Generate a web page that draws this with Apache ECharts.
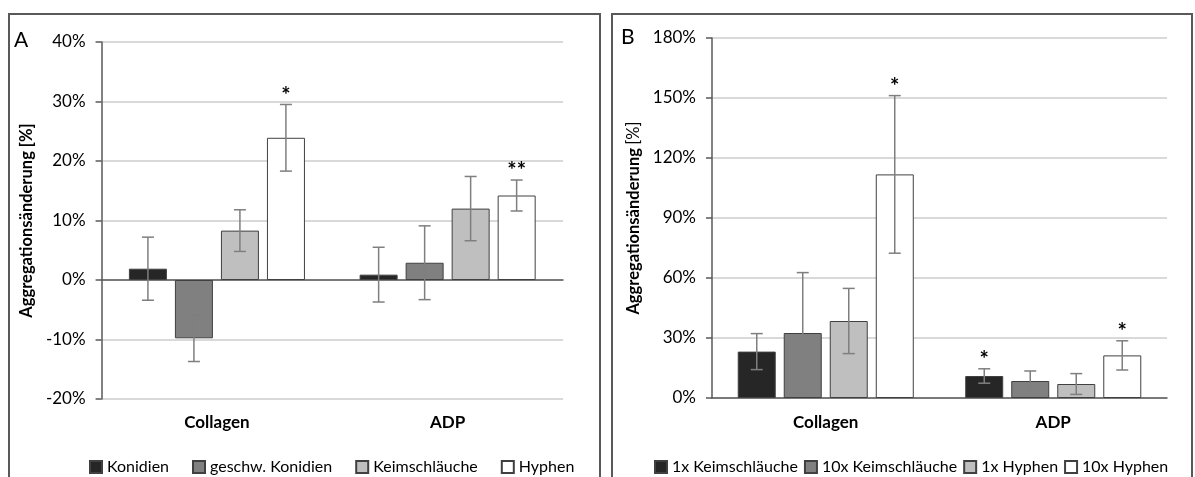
<!DOCTYPE html>
<html>
<head>
<meta charset="utf-8">
<script src="https://cdn.jsdelivr.net/npm/echarts@6/dist/echarts.min.js"></script>
<style>
  html, body { margin: 0; padding: 0; background: #fff; overflow: hidden; }
  .panel { position: absolute; top: 13px; height: 470px; border: 2px solid #595959; border-bottom: none; }
  #boxA { left: 8px; width: 589px; }
  #boxB { left: 611px; width: 578px; }
  .chart { width: 100%; height: 462px; }
</style>
</head>
<body>
<div class="panel" id="boxA"><div class="chart" id="chartA"></div></div>
<div class="panel" id="boxB"><div class="chart" id="chartB"></div></div>
<script>
// Daten (Werte in %)
var categories = ['Collagen', 'ADP'];

var namesA = ['Konidien', 'geschw. Konidien', 'Keimschläuche', 'Hyphen'];
var valuesA = [[1.9, 0.9], [-9.8, 2.9], [8.3, 12.0], [23.9, 14.2]];
var errorsA = [[5.3, 4.6], [3.9, 6.2], [3.5, 5.4], [5.6, 2.6]];
var sigA = [['', ''], ['', ''], ['', ''], ['*', '**']];
var ticksA = { min: -20, max: 40, interval: 10 };

var namesB = ['1x Keimschläuche', '10x Keimschläuche', '1x Hyphen', '10x Hyphen'];
var valuesB = [[23.2, 11.0], [32.5, 8.5], [38.5, 7.0], [111.8, 21.3]];
var errorsB = [[9.0, 3.6], [30.2, 5.0], [16.3, 5.2], [39.4, 7.3]];
var sigB = [['', '*'], ['', ''], ['', ''], ['*', '*']];
var ticksB = { min: 0, max: 180, interval: 30 };

var barColors = ['#262626', '#808080', '#bfbfbf', '#ffffff'];
var FONT = 'Lato, "Open Sans", sans-serif';
var BAR_W = 38, BAR_GAP = 8;

function buildSeries(names, values, errors, sig) {
    var series = [];
    names.forEach(function (name, s) {
        series.push({
            name: name,
            type: 'bar',
            barWidth: BAR_W,
            barGap: (BAR_GAP / BAR_W * 100).toFixed(1) + '%',
            itemStyle: { color: barColors[s], borderColor: '#404040', borderWidth: 1 },
            data: values[s]
        });
    });
    names.forEach(function (name, s) {
        var data = values[s].map(function (v, i) {
            return [i, v, errors[s][i], sig[s][i]];
        });
        series.push({
            type: 'custom',
            z: 5,
            silent: true,
            data: data,
            renderItem: function (params, api) {
                var cat = api.value(0), v = api.value(1), e = api.value(2);
                var star = data[params.dataIndex][3];
                var off = (s - 1.5) * (BAR_W + BAR_GAP);
                var hi = api.coord([cat, v + e]);
                var lo = api.coord([cat, v - e]);
                var x = hi[0] + off;
                var st = { stroke: '#7f7f7f', lineWidth: 1.5 };
                var kids = [
                    { type: 'line', shape: { x1: x, y1: hi[1], x2: x, y2: lo[1] }, style: st },
                    { type: 'line', shape: { x1: x - 6, y1: hi[1], x2: x + 6, y2: hi[1] }, style: st },
                    { type: 'line', shape: { x1: x - 6, y1: lo[1], x2: x + 6, y2: lo[1] }, style: st }
                ];
                if (star) {
                    kids.push({
                        type: 'text',
                        style: {
                            text: star, x: x, y: hi[1] + 2, align: 'center', verticalAlign: 'bottom',
                            fill: '#000', font: 'bold 22px ' + FONT
                        }
                    });
                }
                return { type: 'group', children: kids };
            }
        });
    });
    return series;
}

function yAxisOpt(t, gap, rich) {
    return {
        type: 'value',
        min: t.min, max: t.max, interval: t.interval,
        name: rich,
        nameLocation: 'middle',
        nameGap: gap,
        nameRotate: 90,
        nameTextStyle: {
            rich: {
                b: { fontFamily: FONT, fontWeight: 'bold', fontSize: 16.5, color: '#000' },
                n: { fontFamily: FONT, fontSize: 16.5, color: '#000' }
            }
        },
        axisLine: { show: true, lineStyle: { color: '#595959', width: 1.5 } },
        axisTick: { show: true, length: 6, lineStyle: { color: '#595959', width: 1.5 } },
        axisLabel: { margin: 16, formatter: '{value}%', fontFamily: FONT, fontSize: 17, color: '#000' },
        splitLine: { lineStyle: { color: '#d9d9d9', width: 2 } }
    };
}

function legendOpt(names, left, gap) {
    return {
        data: names,
        left: left,
        top: 439,
        width: 575,
        icon: 'rect',
        itemWidth: 12,
        itemHeight: 12,
        itemGap: gap,
        textStyle: { fontFamily: FONT, fontSize: 16, color: '#000' }
    };
}

var catLabel = { fontFamily: FONT, fontSize: 17, fontWeight: 'bold', color: '#000' };

// Panel A
var chartA = echarts.init(document.getElementById('chartA'));
var optionA = {
    animation: false,
    graphic: [{ type: 'text', left: 4, top: 15, style: { text: 'A', font: '21px ' + FONT, fill: '#000' } }],
    grid: { left: 88, top: 27, width: 465, height: 357 },
    legend: legendOpt(namesA, 74, 23),
    xAxis: [
        {
            type: 'category', data: categories,
            axisLine: { onZero: true, lineStyle: { color: '#595959', width: 1.5 } },
            axisTick: { inside: true, length: 5, lineStyle: { color: '#595959', width: 1.5 } },
            axisLabel: { show: false }
        },
        {
            type: 'category', data: categories, position: 'bottom',
            axisLine: { show: false, onZero: false }, axisTick: { show: false },
            axisLabel: Object.assign({ margin: 15 }, catLabel)
        }
    ],
    yAxis: yAxisOpt(ticksA, 63, '{b|Aggregationsänderung [%]}'),
    series: buildSeries(namesA, valuesA, errorsA, sigA)
};
chartA.setOption(optionA);

// Panel B
var chartB = echarts.init(document.getElementById('chartB'));
var optionB = {
    animation: false,
    graphic: [{ type: 'text', left: 8, top: 12, style: { text: 'B', font: '21px ' + FONT, fill: '#000' } }],
    grid: { left: 99, top: 23, width: 455, height: 360 },
    legend: legendOpt(namesB, 36, 6),
    xAxis: {
        type: 'category', data: categories,
        axisLine: { lineStyle: { color: '#595959', width: 1.5 } },
        axisTick: { inside: true, length: 5, lineStyle: { color: '#595959', width: 1.5 } },
        axisLabel: Object.assign({ margin: 16 }, catLabel)
    },
    yAxis: yAxisOpt(ticksB, 65, '{b|Aggregationsänderung} {n|[%]}'),
    series: buildSeries(namesB, valuesB, errorsB, sigB)
};
chartB.setOption(optionB);
</script>
</body>
</html>
